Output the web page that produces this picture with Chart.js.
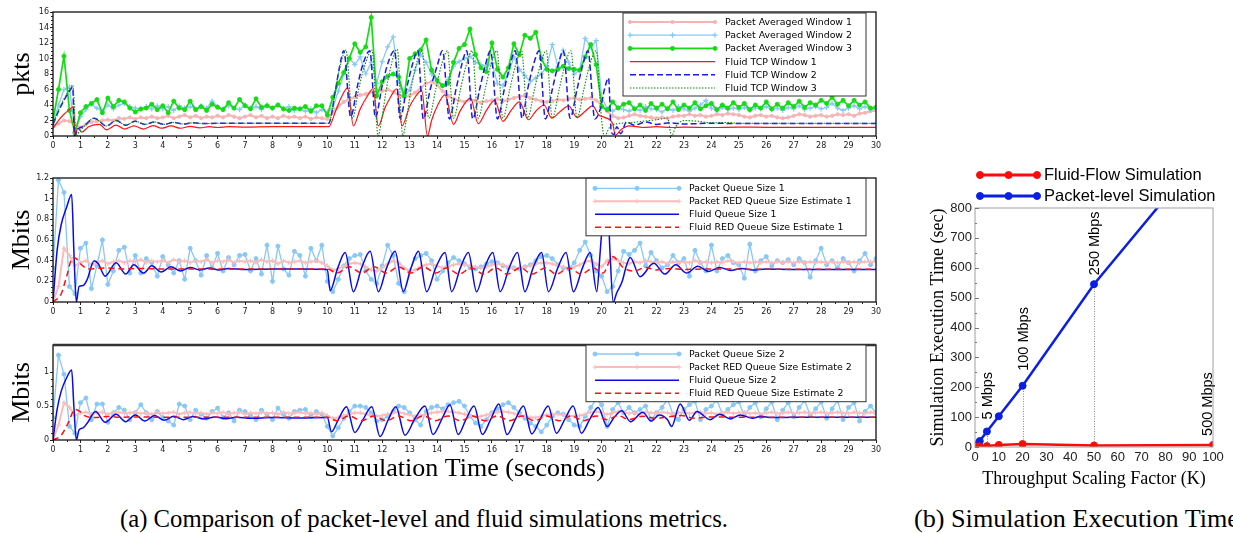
<!DOCTYPE html>
<html><head><meta charset="utf-8">
<script src="https://cdn.jsdelivr.net/npm/chart.js@4.4.0/dist/chart.umd.min.js"></script>
<style>
html,body{margin:0;padding:0;background:#fff;}
#root{position:relative;width:1233px;height:533px;overflow:hidden;background:#fff;}
canvas{position:absolute;}
.cap{position:absolute;font-family:"Liberation Serif","Times New Roman",serif;font-size:25px;line-height:25px;white-space:nowrap;color:#000;transform-origin:0 0;}
</style></head><body>
<div id="root">
<canvas id="cTop" width="890" height="160" style="left:0;top:0"></canvas>
<canvas id="cMid" width="890" height="160" style="left:0;top:165px"></canvas>
<canvas id="cBot" width="890" height="170" style="left:0;top:330px"></canvas>
<canvas id="cRight" width="328" height="350" style="left:905px;top:150px"></canvas>
<div class="cap" id="capA" style="left:120px;top:506px">(a) Comparison of packet-level and fluid simulations metrics.</div>
<div class="cap" id="capB" style="left:914px;top:506px">(b) Simulation Execution Time</div>
</div>
<script>
// ---------------- DATA ----------------
const xTicksSec = [0,1,2,3,4,5,6,7,8,9,10,11,12,13,14,15,16,17,18,19,20,21,22,23,24,25,26,27,28,29,30];
const yTicksPkts = [0,2,4,6,8,10,12,14,16];
const yTicksMbits1 = [0,0.2,0.4,0.6,0.8,1,1.2];
const yTicksMbits2 = [0,0.5,1];
const xTicksK = [0,10,20,30,40,50,60,70,80,90,100];
const yTicksSec = [0,100,200,300,400,500,600,700,800];

// sample times of the packet-level series (s)
const tPkt = [
0,0.2,0.4,0.6,0.8, 1,1.2,1.4,1.6,1.8, 2,2.2,2.4,2.6,2.8, 3,3.2,3.4,3.6,3.8, 4,4.2,4.4,4.6,4.8,
5,5.2,5.4,5.6,5.8, 6,6.2,6.4,6.6,6.8, 7,7.2,7.4,7.6,7.8, 8,8.2,8.4,8.6,8.8, 9,9.2,9.4,9.6,9.8,
10,10.2,10.4,10.6,10.8, 11,11.2,11.4,11.6,11.8, 12,12.2,12.4,12.6,12.8, 13,13.2,13.4,13.6,13.8, 14,14.2,14.4,14.6,14.8,
15,15.2,15.4,15.6,15.8, 16,16.2,16.4,16.6,16.8, 17,17.2,17.4,17.6,17.8, 18,18.2,18.4,18.6,18.8, 19,19.2,19.4,19.6,19.8,
20,20.2,20.4,20.6,20.8, 21,21.2,21.4,21.6,21.8, 22,22.2,22.4,22.6,22.8, 23,23.2,23.4,23.6,23.8, 24,24.2,24.4,24.6,24.8,
25,25.2,25.4,25.6,25.8, 26,26.2,26.4,26.6,26.8, 27,27.2,27.4,27.6,27.8, 28,28.2,28.4,28.6,28.8, 29,29.2,29.4,29.6,29.8,
30];

// ---- top panel (pkts)
const pktAvgWin1 = [
1.2,1.6,2.0,1.9,1.5, 1.1,1.5,1.8,1.9,2.0, 2.1,2.0,2.3,2.2,2.4, 2.2,2.4,2.3,2.5,2.3, 2.4,2.6,2.3,2.5,2.7,
2.4,2.6,2.3,2.5,2.4, 2.6,2.4,2.7,2.5,2.3, 2.5,2.7,2.4,2.6,2.3, 2.5,2.3,2.6,2.4,2.5, 2.3,2.5,2.2,2.4,2.3,
2.2,3.0,3.8,4.4,4.8, 5.0,5.3,5.4,5.7,5.9, 5.8,6.0,5.7,5.3,5.0, 5.2,5.6,6.2,6.8,7.0, 6.6,5.8,5.2,4.8,4.6,
4.4,4.7,4.6,4.3,4.5, 4.6,4.8,4.5,4.7,4.9, 5.1,5.2,4.9,4.7,4.5, 4.4,4.5,4.7,4.6,4.8, 4.9,4.7,4.8,4.9,4.6,
4.0,3.2,2.6,2.3,2.4, 2.6,2.8,2.6,2.5,2.4, 2.3,2.4,2.3,2.5,2.6, 2.6,2.8,2.6,2.7,2.5, 2.6,2.8,2.7,2.9,2.8,
2.7,2.5,2.4,2.6,2.7, 2.5,2.6,2.4,2.3,2.4, 2.6,2.8,2.7,2.5,2.6, 2.7,2.5,2.6,2.8,2.7, 2.8,2.6,2.9,3.0,3.2,
3.3];
const pktAvgWin2 = [
1.5,4.0,6.0,6.3,0.5, 2.5,3.4,4.1,3.6,3.2, 4.0,3.5,4.0,4.2,3.8, 3.6,3.4,3.8,3.5,3.9, 3.5,3.8,3.3,3.9,3.6,
3.8,3.5,3.9,3.6,4.5, 3.8,3.5,3.9,3.6,3.4, 4.0,3.6,3.8,3.4,4.0, 3.6,4.0,3.5,3.8,3.3, 3.5,3.2,3.5,3.0,3.4,
3.1,3.6,5.8,8.0,10.1, 9.2,10.2,8.0,9.5,6.8, 9.6,11.5,12.8,7.0,5.0, 6.0,8.5,10.5,9.5,8.0, 7.0,6.5,7.3,9.0,9.6,
10.0,10.3,9.5,9.2,9.0, 9.4,6.8,6.5,8.0,10.2, 8.6,7.8,7.0,7.5,8.0, 9.0,11.8,9.0,11.1,9.5, 8.0,8.5,12.6,11.5,12.3,
5.0,3.5,3.2,3.7,3.4, 3.2,3.6,3.3,3.8,3.5, 3.4,3.1,3.6,3.3,3.8, 3.5,3.2,3.6,4.0,4.6, 3.6,3.3,3.7,3.4,3.6,
3.4,3.7,3.3,3.6,3.5, 3.8,3.4,3.6,3.3,3.7, 3.5,3.9,3.4,3.6,3.8, 3.5,3.7,4.2,3.6,3.3, 3.6,3.9,3.5,3.8,3.4,
3.5];
const pktAvgWin3 = [
2.0,6.0,10.3,3.3,0.4, 3.0,3.8,4.2,4.7,3.0, 4.9,3.8,4.6,4.4,3.6, 3.1,3.5,3.6,4.1,3.4, 3.9,3.0,4.5,3.6,3.4,
4.5,3.4,3.8,3.3,4.1, 3.7,3.4,4.3,3.6,4.7, 3.9,3.5,4.8,3.7,3.9, 3.6,4.0,3.5,3.3,3.6, 3.5,3.8,3.2,3.9,3.9,
2.7,5.0,6.8,8.2,10.0, 11.9,10.8,11.5,15.3,5.2, 7.0,7.7,8.0,7.6,5.2, 10.0,10.6,11.1,12.4,8.5, 7.2,6.5,6.8,9.5,11.3,
11.8,13.8,10.5,8.8,8.3, 12.0,8.6,7.6,8.8,11.9, 10.5,13.0,12.6,13.4,10.0, 8.6,8.4,8.6,9.0,8.7, 8.6,8.5,10.2,11.8,9.2,
3.8,3.4,4.4,3.6,4.1, 4.3,3.5,4.0,3.3,4.2, 3.6,4.1,3.5,4.4,3.4, 4.0,3.6,4.3,3.5,3.9, 4.2,3.4,4.0,3.6,4.3,
3.7,4.2,3.4,4.0,3.6, 4.4,3.5,4.1,3.6,4.3, 3.8,4.5,3.7,4.3,4.0, 4.6,4.2,5.0,4.1,4.6, 3.9,4.6,4.0,4.4,3.6,
3.7];
// fluid model windows: [time, pkts]
const fluidWin1 = [[0,1.0],[0.2,2.0],[0.4,2.8],[0.6,3.4],[0.75,3.8],[0.8,0.0],[0.9,1.0],[1.05,0.5],[1.3,1.2],[1.7,1.5],[1.95,0.8],[2.3,1.4],[2.6,0.9],[2.95,1.3],[3.3,0.9],[3.65,1.35],[3.95,1.0],[4.3,1.3],[4.65,1.0],[5.0,1.25],[5.35,1.05],[5.7,1.2],[6.0,1.1],[6.4,1.2],[7,1.15],[8,1.2],[9,1.2],[10.05,1.2],
[10.3,3.2],[10.5,4.9],[10.74,6.2],[10.95,1.3],[11.2,3.5],[11.45,5.1],[11.67,6.1],[11.86,1.3],[12.1,3.6],[12.3,5.0],[12.53,6.1],[12.72,1.3],[13.0,3.8],[13.2,5.0],[13.44,5.9],[13.65,0.0],[13.8,2.0],[14.0,3.8],[14.29,5.3],[14.6,1.5],[14.85,3.3],[15.22,4.9],[15.5,1.6],[15.8,3.3],[16.1,4.6],[16.4,1.9],[16.7,3.3],[17.0,4.4],[17.33,2.1],[17.6,3.2],[17.9,4.0],[18.18,2.3],[18.5,3.2],[18.8,3.9],[19.09,2.4],[19.4,3.2],[19.67,3.9],[19.9,2.7],[20.1,2.4],[20.4,1.6],[20.5,0.1],[20.7,0.8],[21.0,1.3],[21.5,1.1],[22,1.2],[22.5,1.1],[23,1.15],[24,1.1],[25,1.15],[26,1.12],[30,1.12]];
const fluidWin2 = [[0,1.5],[0.2,3.2],[0.4,4.6],[0.6,5.8],[0.72,6.3],[0.78,0.0],[0.85,0.5],[0.95,1.0],[1.1,1.2],[1.5,2.3],[1.95,1.3],[2.3,2.0],[2.65,1.4],[3.0,1.9],[3.35,1.5],[3.7,1.8],[4.05,1.5],[4.4,1.75],[4.75,1.55],[5.1,1.7],[5.5,1.6],[6,1.65],[7,1.65],[8,1.65],[9,1.65],[10.05,1.65],
[10.3,6.0],[10.45,9.0],[10.6,11.0],[10.85,2.5],[11.1,6.5],[11.3,9.3],[11.55,11.0],[11.75,2.4],[12.0,6.5],[12.2,9.3],[12.45,11.0],[12.65,2.3],[12.9,6.3],[13.1,9.2],[13.3,11.0],[13.5,2.2],[13.75,6.0],[14.0,9.0],[14.2,11.0],[14.45,2.2],[14.7,6.2],[14.9,9.2],[15.08,11.0],[15.3,2.2],[15.55,6.0],[15.75,9.0],[15.95,11.0],[16.2,2.2],[16.45,6.0],[16.65,9.0],[16.85,11.0],[17.1,2.3],[17.3,6.0],[17.5,9.0],[17.72,11.0],[17.95,2.2],[18.2,6.0],[18.4,9.0],[18.6,11.0],[18.85,2.3],[19.1,6.0],[19.3,9.0],[19.5,11.0],[19.75,2.2],[19.95,3.5],[20.1,6.0],[20.25,7.5],[20.35,0.5],[20.45,0.2],[20.55,1.2],[20.7,0.3],[20.9,1.8],[21.2,1.4],[21.6,1.8],[22.0,1.5],[22.5,1.7],[23.0,1.55],[24,1.65],[25,1.6],[30,1.6]];
const fluidWin3 = [[0,1.5],[0.2,3.3],[0.4,4.8],[0.6,6.0],[0.72,6.6],[0.85,0.0],[0.95,0.5],[1.1,1.1],[1.5,2.3],[1.95,1.3],[2.3,2.0],[2.65,1.4],[3.0,1.9],[3.35,1.5],[3.7,1.8],[4.05,1.5],[4.4,1.75],[4.75,1.55],[5.1,1.7],[5.5,1.6],[6,1.65],[7,1.65],[8,1.65],[9,1.65],[10.05,1.65],
[10.3,6.0],[10.5,9.5],[10.68,11.1],[10.92,2.3],[11.15,6.2],[11.4,9.5],[11.63,11.1],[11.85,0.0],[11.95,1.5],[12.2,7.0],[12.55,11.2],[12.75,0.0],[12.85,1.5],[13.1,7.0],[13.45,11.0],[13.7,2.3],[13.95,6.0],[14.15,9.0],[14.38,11.0],[14.6,2.3],[14.85,6.0],[15.05,9.0],[15.28,11.0],[15.5,2.3],[15.75,6.0],[15.95,9.0],[16.18,11.0],[16.4,2.3],[16.65,6.0],[16.85,9.0],[17.08,11.0],[17.3,2.3],[17.55,6.0],[17.75,9.0],[17.98,11.0],[18.2,2.3],[18.45,6.0],[18.65,9.0],[18.88,11.0],[19.1,2.3],[19.35,6.0],[19.55,9.0],[19.8,11.0],[20.0,2.0],[20.1,0.0],[20.3,1.2],[20.6,1.6],[21.0,1.7],[21.5,1.9],[22.0,2.1],[22.4,2.3],[22.55,0.0],[22.7,1.2],[23.0,2.0],[23.5,1.9],[24.0,1.7],[24.5,1.75],[25,1.65],[30,1.65]];

// ---- middle panel (Mbits, queue 1)
const pktQueue1 = [
0.33,1.18,1.06,0.15,0.08, 0.52,0.57,0.13,0.35,0.60, 0.17,0.30,0.50,0.53,0.28, 0.45,0.28,0.42,0.38,0.25, 0.44,0.36,0.28,0.40,0.22,
0.52,0.40,0.26,0.45,0.33, 0.47,0.30,0.43,0.36,0.45, 0.46,0.30,0.42,0.27,0.55, 0.20,0.54,0.32,0.26,0.49, 0.45,0.25,0.52,0.40,0.55,
0.20,0.10,0.22,0.35,0.42, 0.45,0.46,0.30,0.22,0.18, 0.35,0.55,0.45,0.18,0.10, 0.30,0.42,0.45,0.47,0.40, 0.22,0.30,0.38,0.43,0.40,
0.37,0.33,0.32,0.34,0.37, 0.39,0.38,0.35,0.33,0.33, 0.32,0.34,0.36,0.40,0.44, 0.45,0.42,0.36,0.33,0.32, 0.38,0.50,0.58,0.45,0.30,
0.25,0.10,0.15,0.30,0.49, 0.46,0.50,0.57,0.35,0.48, 0.40,0.33,0.36,0.45,0.38, 0.42,0.25,0.50,0.38,0.30, 0.55,0.30,0.42,0.45,0.38,
0.36,0.23,0.56,0.30,0.40, 0.44,0.35,0.40,0.38,0.41, 0.36,0.42,0.38,0.24,0.40, 0.52,0.36,0.40,0.33,0.42, 0.38,0.30,0.40,0.47,0.36,
0.42];
const pktRedEst1 = [
0.0,0.15,0.52,0.45,0.35, 0.38,0.40,0.36,0.38,0.40, 0.37,0.39,0.40,0.38,0.40, 0.39,0.41,0.38,0.40,0.39, 0.40,0.38,0.41,0.39,0.40,
0.38,0.40,0.39,0.41,0.38, 0.40,0.39,0.41,0.38,0.40, 0.39,0.40,0.38,0.41,0.39, 0.40,0.37,0.40,0.38,0.39, 0.40,0.38,0.39,0.40,0.38,
0.35,0.31,0.32,0.35,0.37, 0.38,0.37,0.34,0.31,0.30, 0.33,0.37,0.40,0.38,0.33, 0.30,0.31,0.34,0.36,0.37, 0.35,0.33,0.34,0.36,0.37,
0.36,0.35,0.34,0.33,0.34, 0.36,0.37,0.36,0.34,0.33, 0.33,0.34,0.35,0.37,0.38, 0.38,0.37,0.35,0.34,0.33, 0.34,0.36,0.39,0.40,0.37,
0.34,0.40,0.42,0.40,0.38, 0.37,0.39,0.38,0.40,0.39, 0.38,0.39,0.37,0.39,0.38, 0.39,0.38,0.40,0.38,0.39, 0.38,0.39,0.38,0.40,0.39,
0.38,0.39,0.38,0.39,0.38, 0.39,0.38,0.39,0.38,0.39, 0.38,0.39,0.38,0.39,0.38, 0.39,0.38,0.39,0.38,0.39, 0.38,0.39,0.38,0.39,0.39,
0.39];
const fluidQueue1 = [[0,0],[0.15,0.5],[0.3,0.75],[0.5,0.92],[0.68,1.04],[0.76,0.5],[0.85,0],[0.95,0.15],[1.1,0.16],[1.25,0.22],[1.5,0.4],[1.65,0.37],[1.9,0.25],[2.3,0.38],[2.65,0.27],[2.95,0.36],[3.3,0.28],[3.6,0.35],[3.95,0.29],[4.3,0.34],[4.65,0.30],[5.0,0.335],[5.35,0.31],[5.7,0.33],[6.05,0.31],[6.4,0.325],[7,0.315],[8,0.32],[9,0.32],[10.0,0.315],
[10.1,0.11],[10.38,0.33],[10.65,0.48],[10.95,0.10],[11.25,0.33],[11.56,0.49],[11.86,0.10],[12.16,0.33],[12.47,0.49],[12.77,0.10],[13.05,0.33],[13.32,0.49],[13.62,0.10],[13.95,0.33],[14.29,0.48],[14.53,0.10],[14.85,0.33],[15.14,0.48],[15.44,0.10],[15.73,0.33],[16.03,0.48],[16.3,0.10],[16.63,0.33],[16.93,0.48],[17.2,0.10],[17.5,0.33],[17.81,0.48],[18.06,0.10],[18.4,0.33],[18.7,0.48],[18.97,0.10],[19.3,0.33],[19.58,0.48],[19.82,0.10],[19.95,0.5],[20.1,1.0],[20.2,1.1],[20.3,0.5],[20.42,0.0],[20.55,0.09],[20.75,0.2],[20.9,0.35],[21.04,0.43],[21.4,0.245],[21.9,0.375],[22.3,0.27],[22.7,0.36],[23.1,0.28],[23.5,0.345],[23.9,0.295],[24.3,0.335],[24.7,0.305],[25.1,0.325],[25.5,0.31],[26,0.32],[27,0.315],[28,0.315],[29,0.315],[30,0.315]];
const fluidRedEst1 = [[0,0],[0.3,0.08],[0.5,0.25],[0.72,0.43],[0.85,0.42],[1.0,0.37],[1.3,0.32],[1.6,0.325],[2.0,0.33],[2.5,0.32],[3,0.325],[4,0.32],[5,0.32],[6,0.32],[7,0.32],[8,0.32],[9,0.32],[10,0.32],[10.35,0.28],[10.8,0.34],[11.25,0.28],[11.7,0.34],[12.15,0.28],[12.6,0.34],[13.05,0.28],[13.5,0.34],[13.95,0.28],[14.35,0.33],[14.8,0.27],[15.25,0.33],[15.7,0.27],[16.15,0.33],[16.55,0.27],[17.05,0.33],[17.45,0.27],[17.95,0.33],[18.35,0.27],[18.8,0.33],[19.25,0.27],[19.7,0.33],[20.05,0.28],[20.4,0.44],[20.8,0.33],[21.2,0.30],[21.6,0.335],[22.0,0.31],[22.5,0.325],[23,0.315],[24,0.32],[25,0.318],[30,0.318]];

// ---- bottom panel (Mbits, queue 2)
const pktQueue2 = [
0.33,1.25,0.97,0.20,0.10, 0.55,0.62,0.30,0.53,0.53, 0.26,0.40,0.48,0.44,0.30, 0.40,0.52,0.40,0.30,0.42, 0.33,0.28,0.22,0.53,0.50,
0.30,0.44,0.38,0.32,0.42, 0.47,0.33,0.40,0.28,0.44, 0.42,0.36,0.30,0.44,0.38, 0.30,0.47,0.38,0.32,0.42, 0.44,0.45,0.35,0.42,0.38,
0.20,0.06,0.18,0.32,0.42, 0.50,0.50,0.48,0.40,0.28, 0.30,0.35,0.42,0.50,0.48, 0.40,0.30,0.22,0.42,0.48, 0.50,0.46,0.52,0.55,0.57,
0.50,0.35,0.25,0.20,0.30, 0.40,0.46,0.52,0.55,0.48, 0.40,0.32,0.25,0.20,0.12, 0.22,0.35,0.40,0.38,0.30, 0.22,0.20,0.35,0.48,0.60,
0.52,0.20,0.45,0.55,0.40, 0.48,0.40,0.45,0.50,0.30, 0.40,0.48,0.60,0.38,0.30, 0.45,0.52,0.57,0.30,0.45, 0.50,0.59,0.38,0.45,0.52,
0.56,0.36,0.48,0.55,0.34, 0.46,0.56,0.30,0.44,0.55, 0.34,0.48,0.58,0.36,0.46, 0.56,0.32,0.46,0.58,0.30, 0.48,0.55,0.28,0.42,0.50,
0.40];
const pktRedEst2 = [
0.0,0.22,0.55,0.48,0.36, 0.40,0.41,0.38,0.40,0.41, 0.38,0.40,0.41,0.39,0.40, 0.41,0.39,0.40,0.38,0.41, 0.39,0.40,0.41,0.38,0.40,
0.41,0.39,0.40,0.38,0.40, 0.39,0.41,0.38,0.40,0.41, 0.38,0.40,0.39,0.41,0.39, 0.40,0.38,0.41,0.39,0.40, 0.41,0.39,0.40,0.38,0.40,
0.36,0.32,0.33,0.36,0.38, 0.40,0.40,0.38,0.36,0.35, 0.36,0.38,0.40,0.41,0.39, 0.37,0.35,0.36,0.38,0.40, 0.41,0.42,0.42,0.41,0.40,
0.38,0.36,0.34,0.35,0.37, 0.39,0.41,0.42,0.41,0.39, 0.37,0.35,0.33,0.33,0.35, 0.37,0.38,0.38,0.37,0.36, 0.35,0.36,0.38,0.41,0.42,
0.40,0.38,0.40,0.42,0.41, 0.39,0.40,0.38,0.41,0.40, 0.39,0.41,0.40,0.38,0.40, 0.41,0.39,0.40,0.41,0.39, 0.40,0.38,0.40,0.41,0.39,
0.40,0.41,0.39,0.40,0.38, 0.40,0.41,0.39,0.40,0.41, 0.39,0.40,0.41,0.39,0.40, 0.41,0.39,0.40,0.41,0.40, 0.39,0.41,0.40,0.39,0.41,
0.40];
const fluidQueue2 = [[0,0],[0.15,0.45],[0.3,0.72],[0.5,0.92],[0.68,1.03],[0.76,0.5],[0.85,0],[0.95,0.15],[1.1,0.18],[1.25,0.25],[1.55,0.42],[1.9,0.26],[2.3,0.38],[2.65,0.27],[3.0,0.37],[3.35,0.28],[3.7,0.36],[4.05,0.29],[4.4,0.35],[4.75,0.30],[5.1,0.345],[5.5,0.31],[5.9,0.34],[6.3,0.315],[6.7,0.335],[7.2,0.32],[8,0.33],[9,0.325],[10.0,0.33],
[10.15,0.12],[10.4,0.30],[10.7,0.49],[11.0,0.11],[11.3,0.30],[11.62,0.49],[11.92,0.05],[12.2,0.28],[12.5,0.49],[12.83,0.07],[13.2,0.32],[13.56,0.50],[13.85,0.08],[14.2,0.33],[14.47,0.52],[14.77,0.08],[15.05,0.30],[15.35,0.50],[15.65,0.08],[15.95,0.30],[16.25,0.53],[16.55,0.08],[16.85,0.30],[17.15,0.50],[17.45,0.09],[17.75,0.30],[18.05,0.50],[18.35,0.10],[18.65,0.30],[18.96,0.50],[19.26,0.10],[19.56,0.30],[19.87,0.48],[20.2,0.20],[20.45,0.33],[20.73,0.43],[21.05,0.27],[21.5,0.41],[21.8,0.28],[22.1,0.37],[22.4,0.30],[22.55,0.20],[22.86,0.53],[23.2,0.29],[23.47,0.42],[23.95,0.30],[24.3,0.38],[24.7,0.31],[25.05,0.37],[25.5,0.32],[25.8,0.35],[26.2,0.33],[27,0.335],[28,0.335],[29,0.335],[30,0.335]];
const fluidRedEst2 = [[0,0],[0.3,0.07],[0.55,0.25],[0.8,0.45],[0.95,0.43],[1.15,0.36],[1.5,0.33],[2.0,0.345],[2.5,0.335],[3,0.34],[4,0.335],[5,0.335],[6,0.335],[7,0.335],[8,0.335],[9,0.335],[10,0.335],[10.35,0.285],[10.8,0.355],[11.25,0.285],[11.7,0.355],[12.15,0.285],[12.6,0.355],[13.05,0.285],[13.5,0.355],[13.95,0.285],[14.4,0.355],[14.85,0.285],[15.3,0.355],[15.75,0.285],[16.2,0.355],[16.65,0.285],[17.1,0.355],[17.55,0.285],[18.0,0.355],[18.45,0.285],[18.9,0.355],[19.35,0.285],[19.8,0.355],[20.2,0.30],[20.6,0.36],[21.0,0.30],[21.5,0.35],[22.0,0.32],[22.5,0.345],[22.9,0.36],[23.4,0.32],[24,0.34],[25,0.335],[30,0.335]];

// ---- right panel (execution time)
const scaleK = [1,2,5,10,20,50,100];
const fluidExecTime = [2,2,3,7,10,5,7];
const packetExecTime = [10,20,52,103,205,545,1025];
const rateK = [5,20,50,100];
const rateLabels = ['5 Mbps','100 Mbps','250 Mbps','500 Mbps'];

// ---------------- HELPERS ----------------
function pts(xs, ys){ return xs.map((x,i)=>({x:x, y:ys[i]})); }
function pairs(p){ return p.map(q=>({x:q[0], y:q[1]})); }
function ticksFrom(arr){ return function(s){ s.ticks = arr.map(v=>({value:v})); }; }
function ordered(list){ return list.map((d,i)=>Object.assign({order: list.length - i}, d)); }

const framePlugin = {
  id: 'frame',
  afterDatasetsDraw(chart, args, o) {
    const {ctx, chartArea: a} = chart;
    ctx.save();
    ctx.strokeStyle = o.color; ctx.lineWidth = o.width;
    ctx.strokeRect(a.left, a.top, a.right - a.left, a.bottom - a.top);
    if (o.topWidth){
      ctx.lineWidth = o.topWidth; ctx.strokeStyle = o.topColor || o.color;
      ctx.beginPath(); ctx.moveTo(a.left, a.top); ctx.lineTo(a.right, a.top); ctx.stroke();
    }
    ctx.strokeStyle = o.tickColor || o.color; ctx.lineWidth = 1;
    const xs = chart.scales.x, ys = chart.scales.y;
    function minor(scale, div, horiz, len, inner){
      if (!div) return;
      const t = scale.ticks.map(k=>k.value);
      for (let i=0;i<t.length-1;i++){
        for (let k=1;k<div;k++){
          const v = t[i] + (t[i+1]-t[i])*k/div;
          const p = Math.round(scale.getPixelForValue(v)) + 0.5;
          ctx.beginPath();
          if (horiz){ ctx.moveTo(p, a.bottom); ctx.lineTo(p, a.bottom + (inner ? -len : len)); }
          else { ctx.moveTo(a.left, p); ctx.lineTo(a.left + (inner ? len : -len), p); }
          ctx.stroke();
        }
      }
    }
    minor(xs, o.xMinor, true, o.minorLen, o.inner);
    minor(ys, o.yMinor, false, o.minorLen, o.inner);
    if (o.inner && o.majorLen){
      ys.ticks.forEach(k=>{ const p = Math.round(ys.getPixelForValue(k.value))+0.5; ctx.beginPath(); ctx.moveTo(a.left,p); ctx.lineTo(a.left+o.majorLen,p); ctx.stroke(); });
    }
    ctx.restore();
  }
};

const boxLegend = {
  id: 'boxLegend',
  afterDraw(chart, args, o) {
    if (!o || !o.display) return;
    const {ctx, chartArea: a} = chart;
    let x1, y1;
    if (o.abs){ x1 = o.abs.x; y1 = o.abs.y; }
    else {
      const x2 = a.right - o.right; x1 = x2 - o.width; y1 = a.top + o.top;
      ctx.save();
      ctx.fillStyle = '#fff'; ctx.fillRect(x1, y1, o.width, o.height);
      ctx.strokeStyle = o.borderColor; ctx.lineWidth = o.borderWidth;
      ctx.strokeRect(x1, y1, o.width, o.height);
      ctx.restore();
    }
    chart.data.datasets.forEach((ds, i) => {
      const y = y1 + o.firstRow + i * o.rowStep;
      const sx1 = x1 + o.sampleX, sx2 = sx1 + o.sampleW;
      ctx.save();
      ctx.strokeStyle = ds.borderColor; ctx.lineWidth = o.lineWidth || ds.borderWidth;
      ctx.setLineDash(ds.borderDash || []);
      ctx.beginPath(); ctx.moveTo(sx1, y); ctx.lineTo(sx2, y); ctx.stroke();
      ctx.setLineDash([]);
      if (ds.pointRadius > 0) {
        ctx.fillStyle = ds.pointBackgroundColor || ds.borderColor;
        ctx.strokeStyle = ds.pointBorderColor || ds.borderColor;
        ctx.lineWidth = ds.pointBorderWidth || 1;
        [sx1, (sx1 + sx2) / 2, sx2].forEach(px => {
          Chart.helpers.drawPoint(ctx, {pointStyle: ds.pointStyle || 'circle', radius: ds.pointRadius, borderWidth: ds.pointBorderWidth || 1, rotation: 0}, px, y);
        });
      }
      ctx.restore();
      ctx.save();
      ctx.fillStyle = o.color; ctx.font = o.font; ctx.textBaseline = 'middle'; ctx.textAlign = 'left';
      ctx.fillText(ds.label, x1 + o.textX, y + (o.textDy || 0));
      ctx.restore();
    });
  }
};

const marksPlugin = {
  id: 'marks',
  beforeDatasetsDraw(chart, args, o) {
    const {ctx} = chart; const xs = chart.scales.x, ys = chart.scales.y;
    ctx.save();
    ctx.strokeStyle = o.lineColor; ctx.lineWidth = 1; ctx.setLineDash([1, 1.5]);
    rateK.forEach(k => {
      const v = packetExecTime[scaleK.indexOf(k)];
      if (v > ys.max) return;
      const px = Math.round(xs.getPixelForValue(k)) + 0.5;
      ctx.beginPath(); ctx.moveTo(px, ys.getPixelForValue(0)); ctx.lineTo(px, ys.getPixelForValue(v)); ctx.stroke();
    });
    ctx.restore();
  },
  afterDatasetsDraw(chart, args, o) {
    const {ctx} = chart; const xs = chart.scales.x, ys = chart.scales.y;
    ctx.save();
    ctx.fillStyle = o.color; ctx.font = o.font; ctx.textAlign = 'left'; ctx.textBaseline = 'middle';
    rateK.forEach((k, i) => {
      const idx = scaleK.indexOf(k);
      let v = packetExecTime[idx];
      if (v > ys.max) v = fluidExecTime[idx];
      const px = xs.getPixelForValue(k) + (o.dx[i] || 0);
      const py = ys.getPixelForValue(v) - o.gap[i];
      ctx.save(); ctx.translate(px, py); ctx.rotate(-Math.PI / 2);
      ctx.fillText(rateLabels[i], 0, 0); ctx.restore();
    });
    ctx.restore();
  }
};

// ---------------- LEFT CHARTS ----------------
const tickFont = {family: 'DejaVu Sans', size: 8};
const titleFont = {family: 'Liberation Serif', size: 26};
function leftOptions(cfg){
  return {
    responsive: false, animation: false, events: [],
    layout: {padding: {top: cfg.padTop, right: 14, bottom: cfg.padBottom, left: 0}},
    plugins: {
      legend: {display: false}, tooltip: {enabled: false},
      frame: Object.assign({color: '#111', width: 1.3, tickColor: '#222', xMinor: 2, yMinor: cfg.yMinor, minorLen: 2}, cfg.frame || {}),
      boxLegend: Object.assign({display: true, right: 10, borderColor: '#333', borderWidth: 1, color: '#000', font: '9.4px "DejaVu Sans"', textDy: 0.5}, cfg.legend)
    },
    scales: {
      x: {
        type: 'linear', min: 0, max: 30,
        afterBuildTicks: ticksFrom(xTicksSec),
        afterFit: s => { s.height = cfg.xHeight; },
        ticks: {autoSkip: false, maxRotation: 0, minRotation: 0, font: tickFont, color: '#222', padding: 2, callback: v => String(v)},
        grid: {drawOnChartArea: false, drawTicks: true, tickLength: 3, color: '#222'},
        border: {display: false},
        title: cfg.xTitle ? {display: true, text: cfg.xTitle, font: titleFont, color: '#000', padding: {top: 0, bottom: 11}} : {display: false}
      },
      y: {
        type: 'linear', min: cfg.yMin, max: cfg.yMax,
        afterBuildTicks: ticksFrom(cfg.yTicks),
        afterFit: s => { s.width = 53; },
        ticks: {font: tickFont, color: '#222', padding: 1, callback: v => String(v)},
        grid: {drawOnChartArea: false, drawTicks: true, tickLength: 3, color: '#222'},
        border: {display: false},
        title: {display: true, text: cfg.yTitle, font: titleFont, color: '#000', padding: {top: 7, bottom: 0}}
      }
    }
  };
}

const pink = '#f7b4b4', lblue = '#88c8f6', green = '#14dc14';

new Chart(document.getElementById('cTop'), {
  type: 'line',
  data: {datasets: ordered([
    {label: 'Packet Averaged Window 1', data: pts(tPkt, pktAvgWin1), borderColor: pink, backgroundColor: pink, borderWidth: 2, pointRadius: 1.6, pointStyle: 'circle', pointBackgroundColor: pink, pointBorderColor: pink, pointBorderWidth: 1},
    {label: 'Packet Averaged Window 2', data: pts(tPkt, pktAvgWin2), borderColor: lblue, backgroundColor: lblue, borderWidth: 1.3, pointRadius: 2.6, pointStyle: 'cross', pointBackgroundColor: lblue, pointBorderColor: lblue, pointBorderWidth: 1.2},
    {label: 'Packet Averaged Window 3', data: pts(tPkt, pktAvgWin3), borderColor: green, backgroundColor: green, borderWidth: 1.7, pointRadius: 2, pointStyle: 'circle', pointBackgroundColor: green, pointBorderColor: green, pointBorderWidth: 1},
    {label: 'Fluid TCP Window 1', data: pairs(fluidWin1), borderColor: '#ff1414', borderWidth: 1.2, pointRadius: 0, cubicInterpolationMode: 'monotone'},
    {label: 'Fluid TCP Window 2', data: pairs(fluidWin2), borderColor: '#1a1ae8', borderWidth: 1.5, borderDash: [6, 3], pointRadius: 0, cubicInterpolationMode: 'monotone'},
    {label: 'Fluid TCP Window 3', data: pairs(fluidWin3), borderColor: '#108a10', borderWidth: 1.1, borderDash: [1.5, 1.5], pointRadius: 0, cubicInterpolationMode: 'monotone'}
  ])},
  options: leftOptions({padTop: 12, padBottom: 4, xHeight: 20, yMin: 0, yMax: 16, yTicks: yTicksPkts, yMinor: 4, yTitle: 'pkts',
    legend: {width: 243, height: 83, top: 1, firstRow: 9, rowStep: 13.2, sampleX: 7, sampleW: 85, textX: 102}}),
  plugins: [framePlugin, boxLegend]
});

function queueDatasets(n, pq, pr, fq, fr){
  return ordered([
    {label: 'Packet Queue Size ' + n, data: pts(tPkt, pq), borderColor: lblue, backgroundColor: lblue, borderWidth: 1.3, pointRadius: 2, pointStyle: 'circle', pointBackgroundColor: lblue, pointBorderColor: lblue, pointBorderWidth: 1},
    {label: 'Packet RED Queue Size Estimate ' + n, data: pts(tPkt, pr), borderColor: '#fbbcbc', backgroundColor: '#fbbcbc', borderWidth: 2, pointRadius: 2.4, pointStyle: 'cross', pointBackgroundColor: '#fbbcbc', pointBorderColor: '#fbbcbc', pointBorderWidth: 1},
    {label: 'Fluid Queue Size ' + n, data: pairs(fq), borderColor: '#0a0ae6', borderWidth: 1.5, pointRadius: 0, cubicInterpolationMode: 'monotone'},
    {label: 'Fluid RED Queue Size Estimate ' + n, data: pairs(fr), borderColor: '#ff1010', borderWidth: 1.5, borderDash: [6, 4], pointRadius: 0, cubicInterpolationMode: 'monotone'}
  ]);
}

new Chart(document.getElementById('cMid'), {
  type: 'line',
  data: {datasets: queueDatasets(1, pktQueue1, pktRedEst1, fluidQueue1, fluidRedEst1)},
  options: leftOptions({padTop: 13, padBottom: 4, xHeight: 19, yMin: 0, yMax: 1.2, yTicks: yTicksMbits1, yMinor: 4, yTitle: 'Mbits',
    legend: {width: 280, height: 57.5, top: 0.3, firstRow: 10, rowStep: 13, sampleX: 9, sampleW: 84, textX: 103}}),
  plugins: [framePlugin, boxLegend]
});

new Chart(document.getElementById('cBot'), {
  type: 'line',
  data: {datasets: queueDatasets(2, pktQueue2, pktRedEst2, fluidQueue2, fluidRedEst2)},
  options: leftOptions({padTop: 15, padBottom: 4, xHeight: 56, yMin: 0, yMax: 1.4, yTicks: yTicksMbits2, yMinor: 5, yTitle: 'Mbits', xTitle: 'Simulation Time (seconds)',
    frame: {topWidth: 2.5, topColor: '#333'},
    legend: {width: 280, height: 56.7, top: 0, firstRow: 9, rowStep: 13.1, sampleX: 9, sampleW: 84, textX: 103}}),
  plugins: [framePlugin, boxLegend]
});

// ---------------- RIGHT CHART ----------------
const rFont = {family: 'Liberation Sans', size: 13};
const rTitle = {family: 'Liberation Serif', size: 18};
new Chart(document.getElementById('cRight'), {
  type: 'line',
  data: {datasets: [
    {label: 'Fluid-Flow Simulation', data: pts(scaleK, fluidExecTime), borderColor: '#ff0a0a', backgroundColor: '#ff0a0a', borderWidth: 2.5, pointRadius: 3.5, pointStyle: 'circle', pointBackgroundColor: '#ff0a0a', pointBorderColor: '#ff0a0a', pointBorderWidth: 1},
    {label: 'Packet-level Simulation', data: pts(scaleK, packetExecTime), borderColor: '#0a1ee6', backgroundColor: '#0a1ee6', borderWidth: 2.5, pointRadius: 3.5, pointStyle: 'circle', pointBackgroundColor: '#0a1ee6', pointBorderColor: '#0a1ee6', pointBorderWidth: 1}
  ]},
  options: {
    responsive: false, animation: false, events: [],
    layout: {padding: {top: 58, right: 20, bottom: 10, left: 0}},
    plugins: {
      legend: {display: false}, tooltip: {enabled: false},
      frame: {color: '#a0a0a0', width: 1, tickColor: '#777', yMinor: 2, minorLen: 2, inner: true, majorLen: 4},
      boxLegend: {display: true, abs: {x: 75, y: 25}, firstRow: 0, rowStep: 21, sampleX: 0, sampleW: 57, textX: 64, color: '#000', font: '16.5px "Liberation Sans"', lineWidth: 3, textDy: 0.5},
      marks: {lineColor: '#888', color: '#000', font: '14.5px "Liberation Sans"', gap: [12, 15, 9, 9], dx: [1, 1, 1, -5]}
    },
    scales: {
      x: {
        type: 'linear', min: 0, max: 100,
        afterBuildTicks: ticksFrom(xTicksK),
        afterFit: s => { s.height = 43; },
        ticks: {autoSkip: false, maxRotation: 0, font: rFont, color: '#222', padding: 3, callback: v => String(v)},
        grid: {display: false, drawTicks: false},
        border: {display: false},
        title: {display: true, text: 'Throughput Scaling Factor (K)', font: rTitle, color: '#000', padding: {top: 0, bottom: 0}}
      },
      y: {
        type: 'linear', min: 0, max: 800,
        afterBuildTicks: ticksFrom(yTicksSec),
        afterFit: s => { s.width = 70; },
        ticks: {font: rFont, color: '#222', padding: 3, callback: v => String(v)},
        grid: {display: false, drawTicks: false},
        border: {display: false},
        title: {display: true, text: 'Simulation Execution Time (sec)', font: rTitle, color: '#000', padding: {top: 22, bottom: 0}}
      }
    }
  },
  plugins: [framePlugin, boxLegend, marksPlugin]
});

// ---------------- CAPTIONS ----------------
(function(){
  const a = document.getElementById('capA'), b = document.getElementById('capB');
  a.style.transform = 'scaleX(' + (608 / a.getBoundingClientRect().width) + ')';
  b.style.transform = 'scaleX(' + (325 / b.getBoundingClientRect().width) + ')';
})();
</script>
</body></html>
